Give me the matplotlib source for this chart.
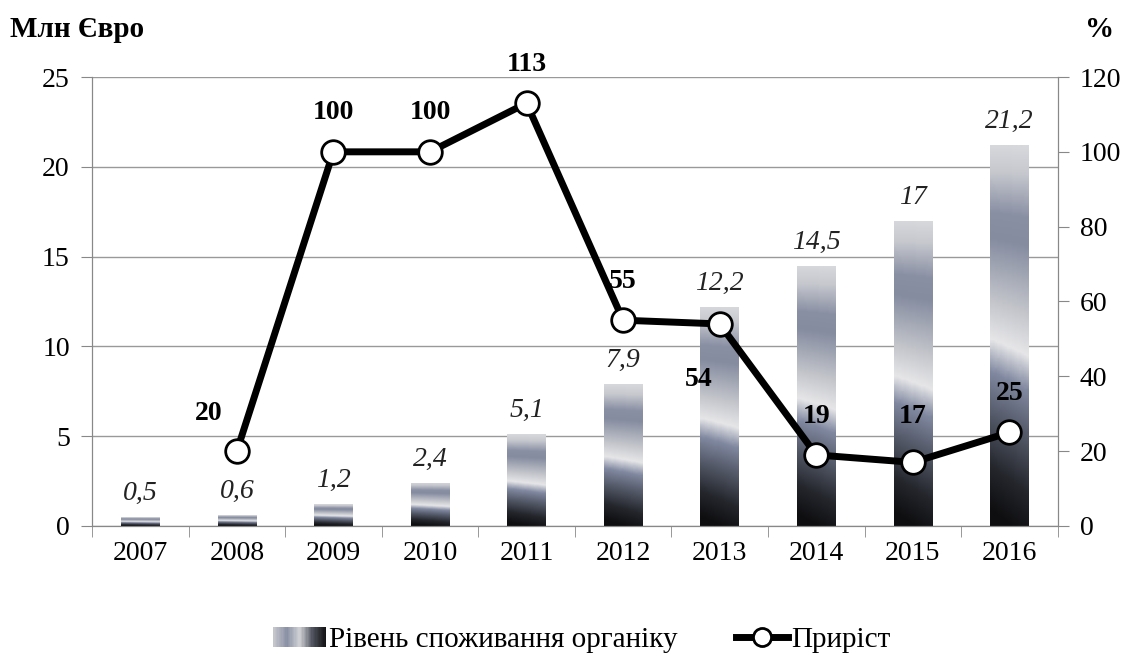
import numpy as np
import matplotlib.pyplot as plt
from matplotlib.colors import LinearSegmentedColormap
from matplotlib.legend_handler import HandlerBase
from matplotlib.lines import Line2D
from matplotlib.patches import Rectangle

plt.rcParams['font.family'] = ['Liberation Serif', 'DejaVu Serif']

years = ['2007', '2008', '2009', '2010', '2011', '2012', '2013', '2014', '2015', '2016']
consumption = [0.5, 0.6, 1.2, 2.4, 5.1, 7.9, 12.2, 14.5, 17, 21.2]
consumption_labels = ['0,5', '0,6', '1,2', '2,4', '5,1', '7,9', '12,2', '14,5', '17', '21,2']
growth_years = ['2008', '2009', '2010', '2011', '2012', '2013', '2014', '2015', '2016']
growth = [20, 100, 100, 113, 55, 54, 19, 17, 25]

# metallic gradient, bottom -> top
metal = LinearSegmentedColormap.from_list('metal', [
    (0.00, '#0e0e10'), (0.12, '#24262c'), (0.28, '#5a6070'), (0.38, '#8088a0'),
    (0.47, '#e6e6e8'), (0.58, '#c2c4ca'), (0.75, '#858ca0'), (0.82, '#8a90a4'),
    (0.93, '#c6c8ce'), (1.00, '#d6d8dc')])
swatch = LinearSegmentedColormap.from_list('swatch', ['#c4c6cc', '#8a90a4', '#d0d2d6', '#50545e', '#141416'])

fig = plt.figure(figsize=(11.3, 6.57), dpi=100)
ax = fig.add_axes([0.0814, 0.1994, 0.8546, 0.6834])
ax2 = ax.twinx()

x = np.arange(len(years))
bars = ax.bar(x, consumption, width=0.4, color='none', zorder=2)
grad = np.linspace(0, 1, 256).reshape(-1, 1)
grad = grad + 0.04 * np.linspace(-1, 1, 16).reshape(1, -1) * (1 - grad)
for b in bars:
    x0, w, h = b.get_x(), b.get_width(), b.get_height()
    im = ax.imshow(grad, cmap=metal, origin='lower', aspect='auto',
                   extent=(x0, x0 + w, 0, h), zorder=2, vmin=0, vmax=1)
    im.set_clip_path(b)

for xi, v, lab in zip(x, consumption, consumption_labels):
    ax.annotate(lab, (xi, v), xytext=(0, 8), textcoords='offset points',
                ha='center', va='bottom', fontsize=20, fontstyle='italic', color='#222')

ax.set_xlim(-0.5, len(years) - 0.5)
ax.set_ylim(0, 25)
ax.set_yticks(range(0, 26, 5))
ax.set_xticks(x)
ax.set_xticklabels(years)
ax.set_xticks(np.arange(-0.5, len(years), 1), minor=True)
ax.tick_params(axis='x', which='major', length=0, labelsize=20, pad=11)
ax.tick_params(axis='x', which='minor', length=8, color='#888')
ax.tick_params(axis='y', length=8, color='#888', labelsize=20, pad=8)
ax.grid(axis='y', color='#999', lw=1)
ax.set_axisbelow(True)

gx = [years.index(y) for y in growth_years]
ax2.plot(gx, growth, color='black', lw=5, marker='o', markersize=17,
         markerfacecolor='white', markeredgecolor='black', markeredgewidth=2,
         zorder=5, solid_capstyle='round')
offsets = {'2008': (-20, 27), '2013': (-15, -40), '2015': (0, 33)}
for xi, yr, v in zip(gx, growth_years, growth):
    dx, dy = offsets.get(yr, (0, 28))
    ax2.annotate(str(v), (xi, v), xytext=(dx, dy), textcoords='offset points',
                 ha='center', va='center', fontsize=20, fontweight='bold')
ax2.set_ylim(0, 120)
ax2.set_yticks(range(0, 121, 20))
ax2.tick_params(axis='y', length=8, color='#888', labelsize=20, pad=8)

for a in (ax, ax2):
    a.spines['top'].set_visible(False)
    for s in ('left', 'right', 'bottom'):
        a.spines[s].set_color('#888')

fig.text(0.009, 0.955, 'Млн Євро', fontsize=21, fontweight='bold', va='center')
fig.text(0.986, 0.955, '%', fontsize=21, fontweight='bold', va='center', ha='right')


class GradientHandler(HandlerBase):
    def create_artists(self, legend, orig, xd, yd, width, height, fontsize, trans):
        n = 40
        cols = swatch(np.linspace(0, 1, n))
        return [Rectangle((xd + i * width / n, yd), width / n + 0.3, height,
                          facecolor=c, edgecolor='none', transform=trans)
                for i, c in enumerate(cols)]


bar_handle = Rectangle((0, 0), 1, 1)
line_handle = Line2D([], [], color='black', lw=5, marker='o', markersize=13,
                     markerfacecolor='white', markeredgecolor='black', markeredgewidth=2)
fig.legend([bar_handle, line_handle], ['Рівень споживання органіку', 'Приріст'],
           handler_map={bar_handle: GradientHandler()},
           loc='center', bbox_to_anchor=(0.515, 0.026), ncol=2, frameon=False,
           fontsize=21, handlelength=1.8, handletextpad=0.1, columnspacing=2.0)

fig.savefig('out.png', dpi=100)
